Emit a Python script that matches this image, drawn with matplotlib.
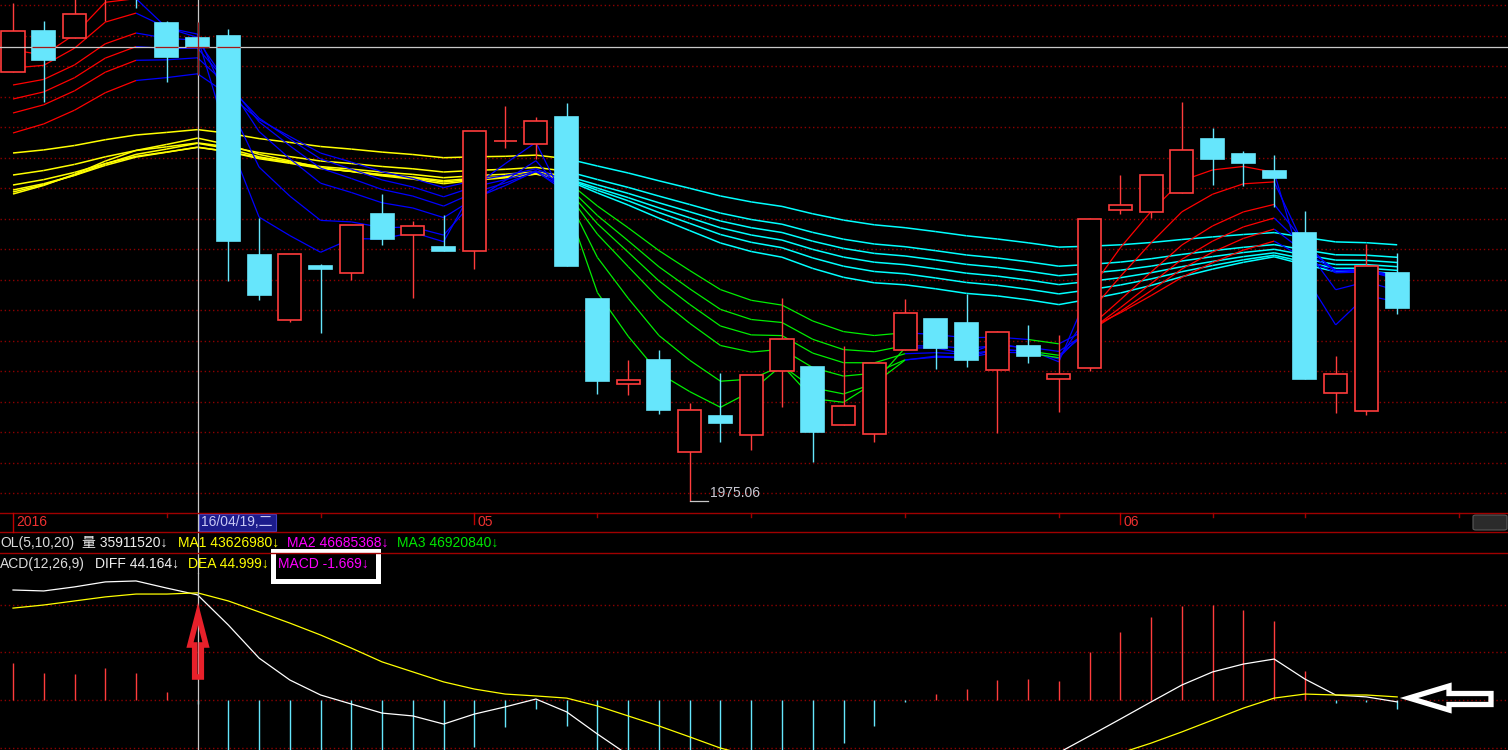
import numpy as np
import pandas as pd
import matplotlib
matplotlib.use('Agg')
import matplotlib.pyplot as plt
from matplotlib.collections import LineCollection
from matplotlib.patches import Polygon, Rectangle, FancyBboxPatch
from matplotlib.lines import Line2D

plt.rcParams['font.family'] = ['Liberation Sans', 'Noto Sans CJK SC', 'DejaVu Sans']

# daily candles, 2016
dates = ['04/11', '04/12', '04/13', '04/14', '04/15', '04/18', '04/19', '04/20', '04/21', '04/22',
         '04/25', '04/26', '04/27', '04/28', '04/29', '05/03', '05/04', '05/05', '05/06', '05/09',
         '05/10', '05/11', '05/12', '05/13', '05/16', '05/17', '05/18', '05/19', '05/20', '05/23',
         '05/24', '05/25', '05/26', '05/27', '05/30', '05/31', '06/01', '06/02', '06/03', '06/06',
         '06/07', '06/08', '06/13', '06/14', '06/15', '06/16']

open_ = np.array([2404.1, 2445.1, 2438.1, 2478.1, 2506.1, 2453.1, 2438.1, 2440.1, 2221.1, 2156.1,
                  2210.1, 2203.1, 2262.1, 2241.1, 2229.1, 2225.1, 2335.1, 2332.1, 2359.1, 2177.1,
                  2092.1, 2116.1, 2024.1, 2060.1, 2041.1, 2105.1, 2109.1, 2051.1, 2042.1, 2126.1,
                  2157.1, 2153.1, 2106.1, 2130.1, 2097.1, 2108.1, 2266.1, 2264.1, 2283.1, 2337.1,
                  2322.1, 2305.1, 2243.1, 2083.1, 2065.1, 2203.1])
high = np.array([2473.1, 2455.1, 2481.1, 2521.1, 2516.1, 2455.1, 2454.1, 2447.1, 2258.1, 2222.1,
                 2212.1, 2251.1, 2282.1, 2255.1, 2261.1, 2345.1, 2370.1, 2359.1, 2373.1, 2177.1,
                 2116.1, 2126.1, 2073.1, 2103.1, 2101.1, 2178.1, 2109.1, 2130.1, 2113.1, 2177.1,
                 2157.1, 2182.1, 2145.1, 2151.1, 2141.1, 2258.1, 2301.1, 2301.1, 2374.1, 2348.1,
                 2325.1, 2321.1, 2265.1, 2120.1, 2232.1, 2223.1])
low = np.array([2404.1, 2374.1, 2438.1, 2455.1, 2468.1, 2394.1, 2401.1, 2195.1, 2176.1, 2154.1,
                2143.1, 2196.1, 2231.1, 2178.1, 2225.1, 2207.1, 2328.1, 2317.1, 2210.1, 2082.1,
                2081.1, 2062.1, 1975.06, 2034.1, 2026.1, 2069.1, 2014.1, 2051.1, 2034.1, 2126.1,
                2107.1, 2109.1, 2043.1, 2113.1, 2064.1, 2105.1, 2262.1, 2258.1, 2283.1, 2291.1,
                2290.1, 2269.1, 2097.1, 2063.1, 2061.1, 2162.1])
close = np.array([2445.1, 2416.1, 2462.1, 2506.1, 2481.1, 2419.1, 2429.1, 2235.1, 2181.1, 2222.1,
                  2207.1, 2251.1, 2237.1, 2250.1, 2225.1, 2345.1, 2335.1, 2355.1, 2210.1, 2095.1,
                  2096.1, 2066.1, 2066.1, 2053.1, 2101.1, 2137.1, 2044.1, 2070.1, 2113.1, 2163.1,
                  2128.1, 2116.1, 2144.1, 2120.1, 2102.1, 2257.1, 2271.1, 2301.1, 2326.1, 2317.1,
                  2313.1, 2298.1, 2097.1, 2102.1, 2210.1, 2168.1])

# short group (3, 5, 8, 10, 12, 15)
ema3 = [2426.1, 2421.1, 2441.6, 2473.8, 2477.5, 2448.3, 2438.7, 2336.9, 2259.0, 2240.5,
        2223.8, 2237.4, 2237.2, 2243.7, 2234.4, 2289.7, 2312.4, 2333.7, 2271.9, 2183.5,
        2139.8, 2102.9, 2084.5, 2068.8, 2084.9, 2111.0, 2077.5, 2073.8, 2093.4, 2128.2,
        2128.1, 2122.1, 2133.1, 2126.6, 2114.3, 2185.7, 2228.4, 2264.7, 2295.4, 2306.2,
        2309.6, 2303.8, 2200.4, 2151.2, 2180.6, 2174.3]
ema5 = [2408.1, 2410.8, 2427.9, 2454.0, 2463.0, 2448.4, 2442.0, 2373.0, 2309.0, 2280.0,
        2255.7, 2254.2, 2248.5, 2249.0, 2241.0, 2275.7, 2295.5, 2315.4, 2280.3, 2218.6,
        2177.8, 2140.6, 2115.8, 2094.9, 2097.0, 2110.4, 2088.3, 2082.2, 2092.5, 2116.0,
        2120.0, 2118.7, 2127.2, 2124.8, 2117.2, 2163.8, 2199.6, 2233.4, 2264.3, 2281.9,
        2292.3, 2294.2, 2228.5, 2186.4, 2194.3, 2185.6]
ema8 = [2391.1, 2396.7, 2411.2, 2432.3, 2443.1, 2437.8, 2435.9, 2391.3, 2344.6, 2317.4,
        2292.9, 2283.6, 2273.3, 2268.1, 2258.5, 2277.7, 2290.5, 2304.9, 2283.8, 2241.9,
        2209.5, 2177.6, 2152.8, 2130.6, 2124.0, 2126.9, 2108.5, 2100.0, 2102.9, 2116.3,
        2118.9, 2118.3, 2124.0, 2123.1, 2118.4, 2149.2, 2176.3, 2204.0, 2231.1, 2250.2,
        2264.2, 2271.7, 2232.9, 2203.8, 2205.2, 2197.0]
ema10 = [2377.1, 2384.2, 2398.4, 2418.0, 2429.5, 2427.6, 2427.9, 2392.8, 2354.3, 2330.3,
         2307.9, 2297.6, 2286.6, 2280.0, 2270.0, 2283.7, 2293.0, 2304.3, 2287.2, 2252.3,
         2223.9, 2195.2, 2171.7, 2150.1, 2141.2, 2140.5, 2123.0, 2113.4, 2113.3, 2122.4,
         2123.4, 2122.1, 2126.1, 2125.0, 2120.8, 2145.6, 2168.4, 2192.5, 2216.8, 2235.0,
         2249.2, 2258.1, 2228.8, 2205.8, 2206.6, 2199.6]
ema12 = [2363.1, 2371.3, 2385.3, 2403.9, 2415.8, 2416.3, 2418.3, 2390.1, 2358.0, 2337.1,
         2317.1, 2306.9, 2296.2, 2289.1, 2279.3, 2289.4, 2296.4, 2305.4, 2290.7, 2260.6,
         2235.3, 2209.3, 2187.3, 2166.7, 2156.6, 2153.6, 2136.8, 2126.5, 2124.4, 2130.4,
         2130.0, 2127.9, 2130.4, 2128.8, 2124.7, 2145.1, 2164.5, 2185.5, 2207.1, 2224.0,
         2237.7, 2247.0, 2223.9, 2205.2, 2206.0, 2200.2]
ema15 = [2343.1, 2352.2, 2365.9, 2383.4, 2395.6, 2398.5, 2402.3, 2381.4, 2356.4, 2339.6,
         2323.0, 2314.0, 2304.4, 2297.6, 2288.5, 2295.6, 2300.5, 2307.3, 2295.1, 2270.1,
         2248.3, 2225.5, 2205.6, 2186.5, 2175.8, 2171.0, 2155.1, 2144.5, 2140.6, 2143.4,
         2141.5, 2138.3, 2139.0, 2136.6, 2132.3, 2147.9, 2163.3, 2180.5, 2198.7, 2213.5,
         2226.0, 2235.0, 2217.8, 2203.3, 2204.1, 2199.6]

# long group (30, 35, 40, 45, 50, 60)
ema30 = [2282.1, 2290.7, 2301.8, 2315.0, 2325.7, 2331.7, 2338.0, 2331.4, 2321.7, 2315.3,
         2308.3, 2304.6, 2300.2, 2297.0, 2292.4, 2295.8, 2298.3, 2302.0, 2296.1, 2283.1,
         2271.1, 2257.9, 2245.5, 2233.1, 2224.6, 2218.9, 2207.7, 2198.8, 2193.3, 2191.3,
         2187.3, 2182.7, 2180.2, 2176.3, 2171.5, 2177.0, 2183.1, 2190.7, 2199.4, 2207.0,
         2213.8, 2219.3, 2211.4, 2204.4, 2204.8, 2202.4]
ema35 = [2284.1, 2291.4, 2300.9, 2312.3, 2321.7, 2327.1, 2332.8, 2327.4, 2319.3, 2313.9,
         2308.0, 2304.8, 2301.0, 2298.2, 2294.1, 2296.9, 2299.0, 2302.1, 2297.0, 2285.8,
         2275.3, 2263.6, 2252.7, 2241.6, 2233.8, 2228.4, 2218.2, 2209.9, 2204.6, 2202.3,
         2198.1, 2193.6, 2190.8, 2186.9, 2182.2, 2186.4, 2191.1, 2197.2, 2204.4, 2210.6,
         2216.3, 2220.9, 2214.0, 2207.8, 2207.9, 2205.7]
ema40 = [2286.1, 2292.4, 2300.7, 2310.7, 2319.0, 2323.9, 2329.0, 2324.4, 2317.4, 2312.8,
         2307.6, 2304.8, 2301.5, 2299.0, 2295.4, 2297.8, 2299.6, 2302.3, 2297.8, 2287.9,
         2278.5, 2268.2, 2258.3, 2248.3, 2241.1, 2236.0, 2226.7, 2219.0, 2213.9, 2211.4,
         2207.3, 2202.9, 2200.0, 2196.1, 2191.5, 2194.7, 2198.4, 2203.4, 2209.4, 2214.7,
         2219.5, 2223.3, 2217.2, 2211.6, 2211.5, 2209.4]
ema45 = [2291.1, 2296.5, 2303.7, 2312.5, 2319.8, 2324.1, 2328.7, 2324.6, 2318.4, 2314.2,
         2309.5, 2307.0, 2304.0, 2301.7, 2298.4, 2300.4, 2301.9, 2304.2, 2300.1, 2291.2,
         2282.7, 2273.3, 2264.3, 2255.1, 2248.4, 2243.6, 2234.9, 2227.7, 2222.7, 2220.1,
         2216.1, 2211.7, 2208.8, 2204.9, 2200.4, 2202.9, 2205.9, 2210.0, 2215.1, 2219.5,
         2223.6, 2226.8, 2221.2, 2216.0, 2215.7, 2213.6]
ema50 = [2301.1, 2305.6, 2311.7, 2319.3, 2325.6, 2329.3, 2333.2, 2329.3, 2323.5, 2319.5,
         2315.1, 2312.6, 2309.6, 2307.3, 2304.1, 2305.7, 2306.8, 2308.7, 2304.8, 2296.6,
         2288.7, 2280.0, 2271.6, 2263.0, 2256.6, 2251.9, 2243.7, 2236.9, 2232.1, 2229.4,
         2225.4, 2221.1, 2218.1, 2214.3, 2209.9, 2211.7, 2214.0, 2217.4, 2221.7, 2225.4,
         2228.8, 2231.5, 2226.2, 2221.3, 2220.9, 2218.8]
ema60 = [2323.1, 2326.2, 2330.6, 2336.4, 2341.1, 2343.7, 2346.5, 2342.8, 2337.5, 2333.7,
         2329.6, 2327.0, 2324.0, 2321.6, 2318.4, 2319.3, 2319.8, 2321.0, 2317.4, 2310.1,
         2303.1, 2295.3, 2287.8, 2280.1, 2274.2, 2269.7, 2262.3, 2256.0, 2251.3, 2248.4,
         2244.5, 2240.3, 2237.1, 2233.3, 2229.0, 2229.9, 2231.3, 2233.6, 2236.6, 2239.2,
         2241.6, 2243.5, 2238.7, 2234.2, 2233.4, 2231.3]

# MACD(12,26,9)
diff = np.array([46.2, 45.8, 47.5, 49.6, 50.0, 47.0, 44.164, 31.5, 17.6, 8.4,
                 2.1, -1.7, -5.5, -6.7, -10.1, -5.9, -2.9, 0.4, -5.0, -14.3,
                 -23.1, -30.2, -35.3, -38.6, -40.3, -40.7, -39.9, -37.6, -34.4, -29.4,
                 -27.3, -25.8, -23.5, -22.5, -22.1, -15.1, -8.0, -0.8, 6.3, 11.8,
                 15.1, 17.2, 8.8, 2.1, 1.3, -0.8])
dea = np.array([38.6, 39.9, 41.6, 43.3, 44.5, 44.5, 44.999, 41.6, 37.0, 32.3,
                27.3, 21.8, 16.0, 11.8, 7.6, 4.6, 2.5, 1.7, 0.8, -2.5,
                -6.7, -10.9, -15.5, -20.2, -23.5, -26.0, -27.7, -28.6, -29.0, -29.0,
                -28.6, -28.1, -27.7, -26.9, -26.0, -25.2, -22.3, -18.1, -13.4, -8.4,
                -3.4, 0.8, 2.5, 2.1, 2.1, 1.3])
macd = np.array([15.5, 11.3, 10.9, 13.4, 11.3, 3.4, -1.669, -21.5, -38.6, -47.9,
                 -50.4, -47.0, -42.8, -37.0, -35.3, -19.7, -11.3, -3.8, -10.9, -23.5,
                 -32.8, -38.6, -39.5, -37.0, -33.6, -29.4, -24.4, -18.1, -10.9, -0.8,
                 2.5, 4.6, 8.4, 8.8, 8.0, 20.2, 28.6, 34.9, 39.5, 39.9,
                 37.8, 33.2, 12.2, -1.3, -0.8, -3.8])

# indicator rows; the first label of each row is cut at the left edge of the screenshot
vol_row = [('OL(5,10,20)', '#dcdcdc'), ('量 35911520↓', '#f0f0f0'), ('MA1 43626980↓', '#ffff00'),
           ('MA2 46685368↓', '#ff00ff'), ('MA3 46920840↓', '#00e600')]
macd_row = [('ACD(12,26,9)', '#dcdcdc'), ('DIFF 44.164↓', '#f0f0f0'), ('DEA 44.999↓', '#ffff00'),
            ('MACD -1.669↓', '#ff00ff')]

W, H = 1508, 750
step = 30.76   # pixels per candle
x0 = 13        # first candle centre
top = 2476.1   # price at the top edge
n = len(close)
x = np.arange(n)
cx = 6         # candle under the crosshair

RED, CYAN = '#ff3c3c', '#66e6fc'
grid_kw = dict(color='#8c0000', lw=1, ls=(0, (1, 2)), zorder=0.5)


def fx(px):
    return px / W


def fy(py):
    return 1 - py / H


fig = plt.figure(figsize=(W / 100, H / 100), dpi=100, facecolor='black')

# ---- price panel
ax = fig.add_axes([0, fy(513), 1, 513 / H])
ax.set_facecolor('black')
ax.set_xlim(-x0 / step, (W - x0) / step)
ax.set_ylim(top - 513, top)
ax.axis('off')
for k in range(17):
    ax.axhline(top - 5 - 30.5 * k, **grid_kw)


def ribbon(lines, color_of, lw):
    for j, v in enumerate(lines):
        pts = np.column_stack([x, v])
        segs = np.stack([pts[:-1], pts[1:]], axis=1)
        cols = [color_of(i, j) for i in range(n - 1)]
        ax.add_collection(LineCollection(segs, colors=cols, linewidths=lw, zorder=2))


def short_color(i, j):
    if i < 4 or 35 <= i <= 40:
        return '#ff0000'
    if 18 <= i <= 28 or (i == 33 and j in (2, 3, 5)):
        return '#00ee00'
    return '#0000ff'


ribbon([ema60, ema50, ema45, ema40, ema35, ema30],
       lambda i, j: '#ffff00' if i < 18 else '#00ffff', 1.1)
ribbon([ema3, ema5, ema8, ema10, ema12, ema15], short_color, 0.9)

up = close >= open_
col = np.where(up, RED, CYAN)
ax.vlines(x, low, high, colors=col, lw=1.0, zorder=3)
ax.bar(x, close - open_, bottom=open_, width=0.75, color=np.where(up, 'black', CYAN),
       edgecolor=col, linewidth=1.2, zorder=4)

# lowest point label
i_lo = int(np.argmin(low))
ax.plot([i_lo, i_lo + 18 / step], [low[i_lo]] * 2, color='#c8c8c8', lw=0.9, zorder=5)
ax.text(i_lo + 20 / step, low[i_lo] + 1, f'{low[i_lo]:.2f}', color='#c8c8d2',
        fontsize=10, va='bottom', ha='left', zorder=5)

# crosshair
ax.axhline(close[cx], color='#c8c8c8', lw=0.9, zorder=5)
ax.axvline(cx, color='#c8c8c8', lw=0.9, zorder=5)
for i in range(n):
    if not up[i] and min(open_[i], close[i]) <= close[cx] <= max(open_[i], close[i]):
        ax.hlines(close[cx], i - 0.375, i + 0.375, color='#a01818', lw=0.9, zorder=6)
ax.vlines(cx, low[cx], high[cx], color='#a01818', lw=0.9, zorder=6)

# ---- MACD panel
mx = fig.add_axes([0, 0, 1, 177 / H])
mx.set_facecolor('black')
mx.set_xlim(ax.get_xlim())
mx.set_ylim(-21.0, 53.34)
mx.axis('off')
for v in (-20, 0, 20, 40):
    mx.axhline(v, **grid_kw)
mx.vlines(x, 0, macd, colors=np.where(macd >= 0, RED, CYAN), lw=1.0, zorder=2)
mx.plot(x, diff, color='white', lw=0.9, zorder=3)
mx.plot(x, dea, color='#ffff00', lw=0.9, zorder=3)
mx.axvline(cx, color='#c8c8c8', lw=0.9, zorder=4)

# ---- date strip and indicator rows
xcx = x0 + step * cx
fig.add_artist(Line2D([fx(xcx)] * 2, [fy(573), fy(513)], color='#c8c8c8', lw=0.9))
for yy in (513, 532, 553):
    fig.add_artist(Line2D([0, 1], [fy(yy)] * 2, color='#a00000', lw=1))

dts = pd.to_datetime(['2016/' + d for d in dates])
mondays = [i for i in range(1, n) if dts[i].weekday() == 0] + [n + 1]  # 06/20 two slots on
months = [i for i in range(1, n) if dts[i].month != dts[i - 1].month]
for i in mondays:
    xp = x0 + step * i
    fig.add_artist(Line2D([fx(xp)] * 2, [fy(513), fy(517)], color='#a00000', lw=1))
for i in months:
    xp = x0 + step * i
    fig.add_artist(Line2D([fx(xp)] * 2, [fy(513), fy(524)], color='#c00000', lw=1))
    fig.text(fx(xp + 3), fy(522.5), f'{dts[i].month:02d}', color='#ee3030', fontsize=10, va='center')
fig.add_artist(Line2D([fx(x0)] * 2, [fy(513), fy(532)], color='#c00000', lw=1))
fig.text(fx(x0 + 3), fy(522.5), f'{dts[0].year}', color='#ee3030', fontsize=10, va='center')

fig.add_artist(Rectangle((fx(199), fy(531)), 77 / W, 17 / H, facecolor='#1c1c8c',
                         edgecolor='#4040c0', lw=0.8))
wd = '一二三四五六日'[dts[cx].weekday()]
fig.text(fx(201), fy(522.5), f'{dts[cx]:%y/%m/%d},{wd}', color='#c8c8f5', fontsize=10, va='center')

fig.add_artist(FancyBboxPatch((fx(1473), fy(530)), 34 / W, 15 / H,
                              boxstyle='round,pad=0,rounding_size=0.002',
                              facecolor='#2b2b2b', edgecolor='#5a5a5a', lw=0.8))

for (s, c), xp in zip(vol_row, [0, 82, 178, 287, 397]):
    fig.text(fx(xp), fy(542.5), s, color=c, fontsize=10, va='center')
for (s, c), xp in zip(macd_row, [0, 95, 188, 278]):
    fig.text(fx(xp), fy(564), s, color=c, fontsize=10, va='center')

# marks drawn on the screenshot
fig.add_artist(Rectangle((fx(272.5), fy(580.5)), 105 / W, 30 / H, fill=False,
                         edgecolor='white', lw=3.6))
red_arrow = [(198, 614), (206, 645), (201.3, 645), (201.3, 677), (194.7, 677), (194.7, 645), (190, 645)]
fig.add_artist(Polygon([(fx(a), fy(b)) for a, b in red_arrow], closed=True, fill=False,
                       edgecolor='#e8202a', lw=4.0, joinstyle='miter'))
white_arrow = [(1409, 698), (1449, 686), (1449, 693.5), (1491, 693.5), (1491, 704.5),
               (1449, 704.5), (1449, 710)]
fig.add_artist(Polygon([(fx(a), fy(b)) for a, b in white_arrow], closed=True, fill=False,
                       edgecolor='white', lw=3.8, joinstyle='miter'))

fig.savefig('out.png', dpi=100, facecolor='black')
